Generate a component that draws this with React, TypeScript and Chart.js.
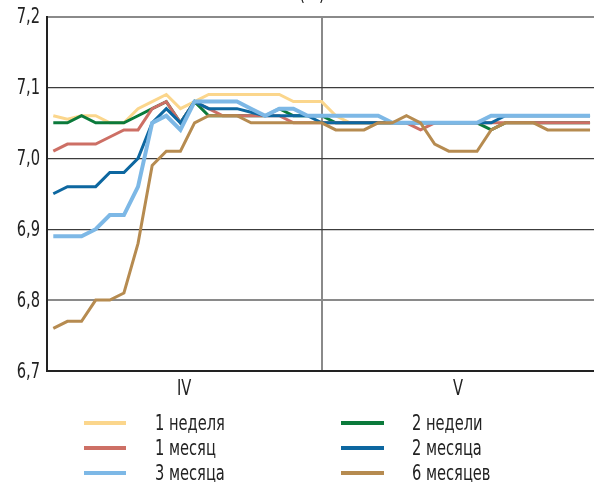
import { useEffect, useRef } from 'react';
import { Chart, registerables } from 'chart.js';

Chart.register(...registerables);

const FONT = '"DejaVu Sans Condensed", "Liberation Sans Narrow", "DejaVu Sans", sans-serif';
const TEXT_SCALE = 0.74;

// Series names (legend) and colours
const seriesNames = ['1 неделя', '2 недели', '1 месяц', '2 месяца', '3 месяца', '6 месяцев'];
const seriesColors = ['#FBD68C', '#0B7A3B', '#CD6F65', '#0D67A0', '#7DB8E6', '#B68B50'];

// Values, trading days of April (IV) and May (V)
const week1 = [7.06, 7.055, 7.06, 7.06, 7.05, 7.05, 7.07, 7.08, 7.09, 7.07, 7.08, 7.09, 7.09, 7.09, 7.09, 7.09, 7.09, 7.08, 7.08, 7.08, 7.06, 7.05, 7.05, 7.05, 7.05, 7.05, 7.05, 7.05, 7.05, 7.05, 7.05, 7.06, 7.06, 7.06, 7.06, 7.06, 7.06, 7.06, 7.06];
const week2 = [7.05, 7.05, 7.06, 7.05, 7.05, 7.05, 7.06, 7.07, 7.08, 7.05, 7.08, 7.06, 7.06, 7.06, 7.06, 7.06, 7.07, 7.06, 7.06, 7.06, 7.05, 7.05, 7.05, 7.05, 7.05, 7.05, 7.05, 7.05, 7.05, 7.05, 7.05, 7.04, 7.05, 7.05, 7.05, 7.05, 7.05, 7.05, 7.05];
const month1 = [7.01, 7.02, 7.02, 7.02, 7.03, 7.04, 7.04, 7.07, 7.08, 7.05, 7.08, 7.07, 7.06, 7.06, 7.06, 7.06, 7.06, 7.05, 7.05, 7.05, 7.05, 7.05, 7.05, 7.05, 7.05, 7.05, 7.04, 7.05, 7.05, 7.05, 7.05, 7.05, 7.05, 7.05, 7.05, 7.05, 7.05, 7.05, 7.05];
const month2 = [6.95, 6.96, 6.96, 6.96, 6.98, 6.98, 7.00, 7.05, 7.07, 7.05, 7.08, 7.07, 7.07, 7.07, 7.065, 7.06, 7.06, 7.06, 7.06, 7.05, 7.05, 7.05, 7.05, 7.05, 7.05, 7.05, 7.05, 7.05, 7.05, 7.05, 7.05, 7.05, 7.06, 7.06, 7.06, 7.06, 7.06, 7.06, 7.06];
const month3 = [6.89, 6.89, 6.89, 6.90, 6.92, 6.92, 6.96, 7.05, 7.06, 7.04, 7.08, 7.08, 7.08, 7.08, 7.07, 7.06, 7.07, 7.07, 7.06, 7.06, 7.06, 7.06, 7.06, 7.06, 7.05, 7.05, 7.05, 7.05, 7.05, 7.05, 7.05, 7.06, 7.06, 7.06, 7.06, 7.06, 7.06, 7.06, 7.06];
const month6 = [6.76, 6.77, 6.77, 6.80, 6.80, 6.81, 6.88, 6.99, 7.01, 7.01, 7.05, 7.06, 7.06, 7.06, 7.05, 7.05, 7.05, 7.05, 7.05, 7.05, 7.04, 7.04, 7.04, 7.05, 7.05, 7.06, 7.05, 7.02, 7.01, 7.01, 7.01, 7.04, 7.05, 7.05, 7.05, 7.04, 7.04, 7.04, 7.04];

const seriesValues = [week1, week2, month1, month2, month3, month6];
// drawing order (lower = on top)
const seriesOrder = [5, 4, 3, 2, 1, 0];
const seriesWidths = [3, 3, 3, 3, 4, 3];

// Month labels on the x axis (placed mid-month) and the month boundary
const monthLabels = ['IV', 'V'];
const monthLabelPos = [9.26, 28.66];
const monthBoundary = 19;

const yMin = 6.7;
const yMax = 7.2;
const yStep = 0.1;

const legendColumns = [
  [0, 2, 4],
  [1, 3, 5],
];

function condensedText(
  ctx: CanvasRenderingContext2D,
  text: string,
  x: number,
  y: number,
  align: 'left' | 'right' | 'center',
) {
  ctx.save();
  ctx.translate(x, y);
  ctx.scale(TEXT_SCALE, 1);
  ctx.textAlign = align;
  ctx.fillText(text, 0, 0);
  ctx.restore();
}

const overlayPlugin = {
  id: 'overlay',
  afterDraw(chart: any) {
    const ctx = chart.ctx as CanvasRenderingContext2D;
    ctx.save();
    ctx.fillStyle = '#222';
    ctx.font = `22px ${FONT}`;

    // clipped title fragment at the very top
    ctx.textBaseline = 'alphabetic';
    condensedText(ctx, '(%)', 312, -0.5, 'center');

    // y tick labels
    ctx.textBaseline = 'middle';
    const ys = chart.scales.y;
    ys.ticks.forEach((t: any) => {
      const py = ys.getPixelForValue(t.value);
      condensedText(ctx, Number(t.value).toFixed(1).replace('.', ','), 40, py + 1, 'right');
    });

    // x month labels
    const xs = chart.scales.x;
    monthLabels.forEach((lab, i) => {
      condensedText(ctx, lab, xs.getPixelForValue(monthLabelPos[i]), 389, 'center');
    });

    // legend
    const colLineX = [[84, 126], [341, 384]];
    const colTextX = [155, 412];
    const rowY = [423, 448, 473];
    legendColumns.forEach((col, c) => {
      col.forEach((si, r) => {
        const y = rowY[r];
        ctx.strokeStyle = seriesColors[si];
        ctx.lineWidth = 4;
        ctx.beginPath();
        ctx.moveTo(colLineX[c][0], y);
        ctx.lineTo(colLineX[c][1], y);
        ctx.stroke();
        ctx.fillStyle = '#222';
        condensedText(ctx, seriesNames[si], colTextX[c], y + 1, 'left');
      });
    });
    ctx.restore();
  },
};

export default function App() {
  const canvasRef = useRef<HTMLCanvasElement | null>(null);

  useEffect(() => {
    if (!canvasRef.current) return;
    const datasets = seriesValues.map((vals, i) => ({
      label: seriesNames[i],
      data: vals.map((v, idx) => ({ x: idx, y: v })),
      borderColor: seriesColors[i],
      backgroundColor: seriesColors[i],
      borderWidth: seriesWidths[i],
      pointRadius: 0,
      pointHoverRadius: 0,
      tension: 0,
      fill: false,
      order: seriesOrder[i],
    }));

    const chart = new Chart(canvasRef.current, {
      type: 'line',
      data: { datasets },
      plugins: [overlayPlugin],
      options: {
        animation: false,
        responsive: false,
        devicePixelRatio: 1,
        layout: { padding: { top: 16.5, right: 0, left: 0, bottom: 0 } },
        plugins: {
          legend: { display: false },
          tooltip: { enabled: false },
          title: { display: false },
        },
        scales: {
          x: {
            type: 'linear',
            min: -0.446,
            max: 38.28,
            afterBuildTicks: (axis: any) => {
              axis.ticks = [
                { value: monthLabelPos[0] },
                { value: monthBoundary },
                { value: monthLabelPos[1] },
              ];
            },
            afterFit: (axis: any) => {
              axis.height = 111;
            },
            ticks: { display: false },
            grid: {
              drawTicks: false,
              color: (c: any) => (c.tick && c.tick.value === monthBoundary ? '#8a8a8a' : 'rgba(0,0,0,0)'),
              lineWidth: 2,
            },
            border: { display: true, color: '#222', width: 2 },
          },
          y: {
            type: 'linear',
            min: yMin,
            max: yMax,
            afterFit: (axis: any) => {
              axis.width = 47;
            },
            ticks: { display: false, stepSize: yStep },
            grid: {
              drawTicks: false,
              color: (c: any) => {
                const v = c.tick ? c.tick.value : 0;
                if (Math.abs(v - 7.2) < 1e-6 || Math.abs(v - 6.8) < 1e-6) return '#8a8a8a';
                return '#3c3c3c';
              },
              lineWidth: (c: any) => {
                const v = c.tick ? c.tick.value : 0;
                if (Math.abs(v - 7.2) < 1e-6 || Math.abs(v - 6.8) < 1e-6) return 2;
                return 1.3;
              },
            },
            border: { display: true, color: '#222', width: 2 },
          },
        },
      },
    });
    return () => chart.destroy();
  }, []);

  return (
    <div style={{ position: 'fixed', left: 0, top: 0, width: 594, height: 482, background: '#fff' }}>
      <canvas ref={canvasRef} width={594} height={482} style={{ display: 'block' }} />
    </div>
  );
}
